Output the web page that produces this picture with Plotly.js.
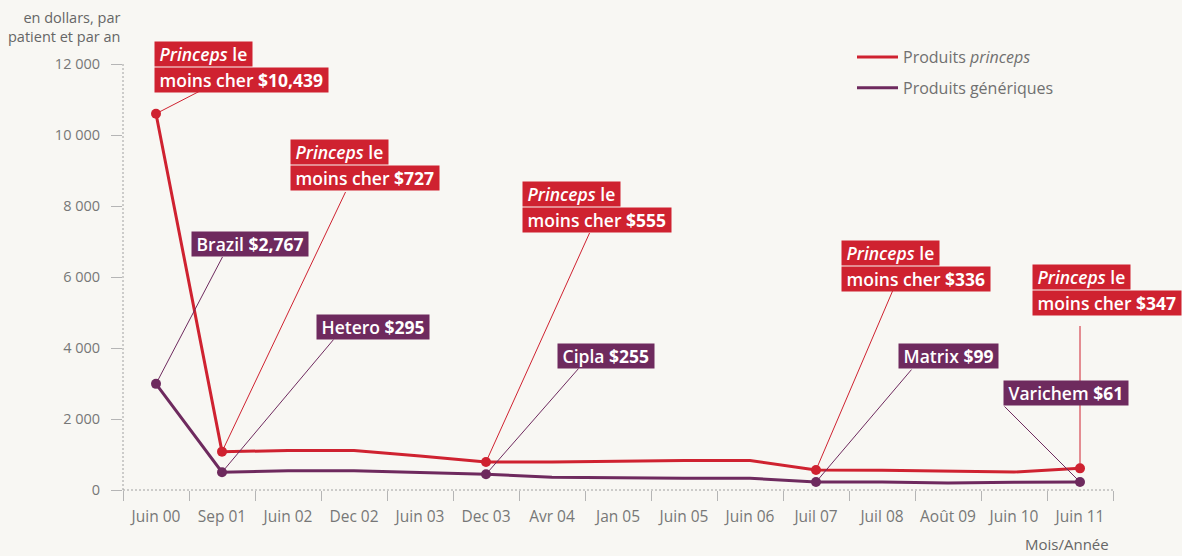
<!DOCTYPE html>
<html><head><meta charset="utf-8">
<script src="https://cdn.plot.ly/plotly-3.0.1.min.js"></script>
<style>html,body{margin:0;padding:0;background:#f8f7f3}#chart{width:1182px;height:556px}</style>
</head><body><div id="chart"></div>
<script>
// ---- data ----
const categories = ['Juin 00','Sep 01','Juin 02','Dec 02','Juin 03','Dec 03','Avr 04','Jan 05','Juin 05','Juin 06','Juil 07','Juil 08','Août 09','Juin 10','Juin 11'];
const princeps   = [10600,1080,1110,1110,960,790,790,820,830,830,564,555,535,507,610];
const generiques = [2990,500,545,540,490,443,360,335,330,330,225,225,197,217,225];
const markedIdx = [0,1,5,10,14];
const princepsAmounts = ['$10,439','$727','$555','$336','$347'];
const genericSuppliers = ['Brazil','Hetero','Cipla','Matrix','Varichem'];
const genericAmounts = ['$2,767','$295','$255','$99','$61'];
const yTicks = [0,2000,4000,6000,8000,10000,12000];

// ---- styles / layout geometry ----
const RED = '#cf2230', PURPLE = '#6e2a5e', BG = '#f8f7f3', GREY = '#777777';
const FONT = '"Open Sans", Lato, sans-serif';
const W = 1182, H = 556, L = 123, R = 69, T = 64, B = 66;
const plotW = W - L - R, plotH = H - T - B, YMAX = 12000;
const px = x => (x - L) / plotW;
const py = y => (H - B - y) / plotH;
const headX = i => L + plotW * (i + 0.5) / categories.length;
const headY = v => H - B - plotH * v / YMAX;
const NB = '\u00a0';

// label boxes (pixel positions of the label boxes and connector tails)
const redPos = [
  {left:154, mid:67,  tail:[200,91]},
  {left:290, mid:165, tail:[346,191]},
  {left:522, mid:207, tail:[590,232]},
  {left:841, mid:266, tail:[893,290]},
  {left:1032,mid:290, tail:[null,325]}
];
const purplePos = [
  {left:191, top:231, tail:[223,256]},
  {left:316, top:314, tail:[334,339]},
  {left:557, top:343, tail:[579,368]},
  {left:898, top:343, tail:[912,369]},
  {left:1003,top:380, tail:[1004,406]}
];

const traces = [
  {x: categories, y: princeps, type:'scatter', mode:'lines', name:'Produits <i>princeps</i>',
   legendgroup:'a', line:{color:RED, width:3}, hoverinfo:'skip'},
  {x: categories, y: generiques, type:'scatter', mode:'lines', name:'Produits génériques',
   legendgroup:'b', line:{color:PURPLE, width:3}, hoverinfo:'skip'},
  {x: markedIdx.map(i=>categories[i]), y: markedIdx.map(i=>princeps[i]), type:'scatter', mode:'markers',
   marker:{color:RED, size:10}, showlegend:false, hoverinfo:'skip'},
  {x: markedIdx.map(i=>categories[i]), y: markedIdx.map(i=>generiques[i]), type:'scatter', mode:'markers',
   marker:{color:PURPLE, size:10}, showlegend:false, hoverinfo:'skip'}
];

const arrows = [], boxes = [];
const boxFont = {family:FONT, size:17.5, color:'#ffffff', weight:600};
const pad = s => NB + s + NB;
markedIdx.forEach((i,k)=>{
  const rp = redPos[k], hx = headX(i), hy = headY(princeps[i]);
  const tx = rp.tail[0] === null ? hx : rp.tail[0];
  arrows.push({x:categories[i], y:princeps[i], xref:'x', yref:'y', text:' ', font:{size:1},
    showarrow:true, arrowhead:0, arrowwidth:1, arrowcolor:RED, ax:tx-hx, ay:rp.tail[1]-hy,
    standoff:0, startstandoff:0, borderpad:0});
  const pp = purplePos[k], gy = headY(generiques[i]);
  arrows.push({x:categories[i], y:generiques[i], xref:'x', yref:'y', text:' ', font:{size:1},
    showarrow:true, arrowhead:0, arrowwidth:1, arrowcolor:PURPLE, ax:pp.tail[0]-hx, ay:pp.tail[1]-gy,
    standoff:0, startstandoff:0, borderpad:0});
  boxes.push({xref:'paper', yref:'paper', x:px(rp.left), y:py(rp.mid), xanchor:'left', yanchor:'bottom',
    text:pad('<i>Princeps</i> le'), showarrow:false, bgcolor:RED, borderpad:0, font:boxFont, align:'left'});
  boxes.push({xref:'paper', yref:'paper', x:px(rp.left), y:py(rp.mid), xanchor:'left', yanchor:'top',
    text:pad('moins cher <b>'+princepsAmounts[k]+'</b>'), showarrow:false, bgcolor:RED, borderpad:0, font:boxFont, align:'left'});
  boxes.push({xref:'paper', yref:'paper', x:px(pp.left), y:py(pp.top), xanchor:'left', yanchor:'top',
    text:pad(genericSuppliers[k]+' <b>'+genericAmounts[k]+'</b>'), showarrow:false, bgcolor:PURPLE, borderpad:0, font:boxFont, align:'left'});
});

const textAnn = [
  {xref:'paper', yref:'paper', x:px(122), y:py(27), xanchor:'right', yanchor:'middle', align:'right',
   text:'en dollars, par<br>patient et par an', showarrow:false, font:{family:FONT, size:14.5, color:'#666666'}},
  {xref:'paper', yref:'paper', x:px(1111), y:py(544), xanchor:'right', yanchor:'middle',
   text:'Mois/Année', showarrow:false, font:{family:FONT, size:15, color:'#666666'}}
];

const layout = {
  width:W, height:H, margin:{l:L, r:R, t:T, b:B},
  paper_bgcolor:BG, plot_bgcolor:BG,
  font:{family:FONT, color:GREY},
  separators:', ',
  showlegend:true,
  legend:{x:px(852), y:py(40), xanchor:'left', yanchor:'top', bgcolor:'rgba(0,0,0,0)',
    font:{family:FONT, size:16, color:'#707070'}, itemwidth:41, tracegroupgap:7, traceorder:'grouped'},
  xaxis:{type:'category', range:[-0.5, categories.length-0.5], tickson:'boundaries',
    ticks:'outside', ticklen:10, tickcolor:'#b5b5b5', tickwidth:1,
    showgrid:false, zeroline:false, showline:false, fixedrange:true,
    tickfont:{family:FONT, size:15.5, color:GREY}, ticklabelstandoff:15},
  yaxis:{range:[0,YMAX], tickvals:yTicks, tickformat:',d',
    ticks:'outside', ticklen:11, tickcolor:'#b5b5b5', tickwidth:1,
    showgrid:false, zeroline:false, showline:false, fixedrange:true,
    tickfont:{family:FONT, size:14.5, color:GREY}, ticklabelstandoff:8},
  shapes:[
    {type:'line', xref:'paper', yref:'paper', x0:0, x1:0, y0:0, y1:1, layer:'below',
     line:{color:'#a0a0a0', width:1, dash:'2px,2px'}},
    {type:'line', xref:'paper', yref:'paper', x0:0, x1:1, y0:0, y1:0, layer:'below',
     line:{color:'#a0a0a0', width:1, dash:'2px,2px'}}
  ],
  annotations: arrows.concat(boxes, textAnn)
};

Plotly.newPlot('chart', traces, layout, {displayModeBar:false, staticPlot:true});
</script>
</body></html>
